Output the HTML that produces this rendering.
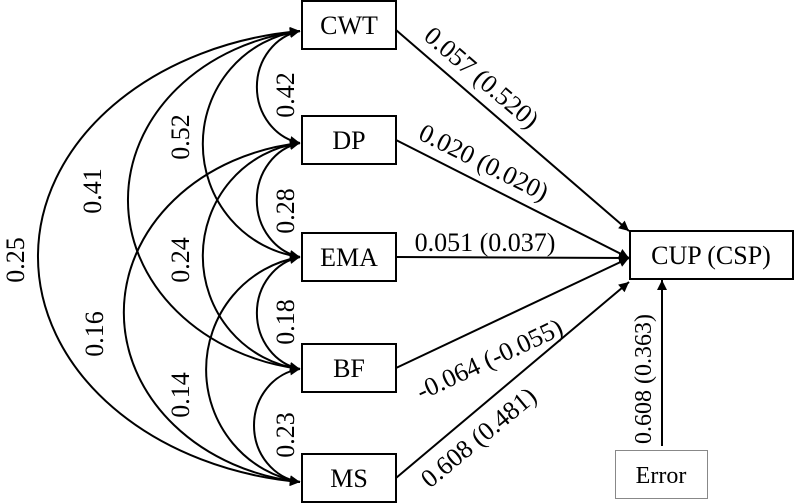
<!DOCTYPE html>
<html><head><meta charset="utf-8"><style>
html,body{margin:0;padding:0;background:#fff;}
svg{display:block;}
text{font-family:"Liberation Serif",serif;fill:#000;}
</style></head><body>
<svg width="795" height="503" viewBox="0 0 795 503" xmlns="http://www.w3.org/2000/svg">
<defs>
<marker id="a" viewBox="0 0 10 10" refX="10" refY="5" markerWidth="12" markerHeight="10" markerUnits="userSpaceOnUse" orient="auto-start-reverse">
<path d="M0,0 L10,5 L0,10 z" fill="#000"/></marker>
</defs>
<g fill="none" stroke="#000" stroke-width="2" marker-start="url(#a)" marker-end="url(#a)">
<path d="M300,31 A53,57 0 0 0 300,143"/>
<path d="M300,143 A53,58 0 0 0 300,257"/>
<path d="M300,257 A53,57 0 0 0 300,369"/>
<path d="M300,369 A53,57 0 0 0 300,482"/>
<path d="M300,31 A112,114 0 0 0 300,257"/>
<path d="M300,143 A112,114 0 0 0 300,369"/>
<path d="M300,257 A112,114 0 0 0 300,482"/>
<path d="M300,31 A203,171 0 0 0 300,369"/>
<path d="M300,143 A203,171 0 0 0 300,482"/>
<path d="M300,31 A296,227 0 0 0 300,482"/>
</g>
<g fill="none" stroke="#000" stroke-width="2" marker-end="url(#a)">
<line x1="396" y1="30" x2="629" y2="231"/>
<line x1="396" y1="140" x2="629" y2="258"/>
<line x1="396" y1="257" x2="629" y2="258"/>
<line x1="396" y1="368" x2="629" y2="258"/>
<line x1="396" y1="478" x2="629" y2="282"/>
<line x1="662" y1="446" x2="662" y2="280"/>
</g>
<g fill="#fff" stroke="#000" stroke-width="2">
<rect x="302" y="1" width="94" height="48"/>
<rect x="302" y="116" width="94" height="48"/>
<rect x="302" y="233" width="94" height="48"/>
<rect x="302" y="344" width="94" height="48"/>
<rect x="302" y="454" width="94" height="48"/>
<rect x="630" y="231" width="163" height="48"/>
</g>
<rect x="615.5" y="450.5" width="92" height="48" fill="#fff" stroke="#888" stroke-width="1"/>
<g font-size="26" text-anchor="middle">
<text x="349" y="34">CWT</text>
<text x="349" y="149">DP</text>
<text x="349" y="266">EMA</text>
<text x="349" y="377">BF</text>
<text x="349" y="487">MS</text>
<text x="711" y="264">CUP (CSP)</text>
<text x="661" y="483" font-size="24">Error</text>
</g>
<g font-size="26" text-anchor="middle">
<text transform="translate(24,260) rotate(-90)">0.25</text>
<text transform="translate(101,191) rotate(-90)">0.41</text>
<text transform="translate(189,137) rotate(-90)">0.52</text>
<text transform="translate(294,95) rotate(-90)">0.42</text>
<text transform="translate(294,211) rotate(-90)">0.28</text>
<text transform="translate(189,260) rotate(-90)">0.24</text>
<text transform="translate(103,334) rotate(-90)">0.16</text>
<text transform="translate(294,322) rotate(-90)">0.18</text>
<text transform="translate(189,395) rotate(-90)">0.14</text>
<text transform="translate(294,435) rotate(-90)">0.23</text>
<text transform="translate(651,379) rotate(-90)" font-size="24">0.608 (0.363)</text>
<text transform="translate(476,84) rotate(40.5)">0.057 (0.520)</text>
<text transform="translate(480,170) rotate(26.6)">0.020 (0.020)</text>
<text x="485" y="251">0.051 (0.037)</text>
<text transform="translate(493,367) rotate(-25)">-0.064 (-0.055)</text>
<text transform="translate(484,444) rotate(-39.6)">0.608 (0.481)</text>
</g>
</svg>
</body></html>
